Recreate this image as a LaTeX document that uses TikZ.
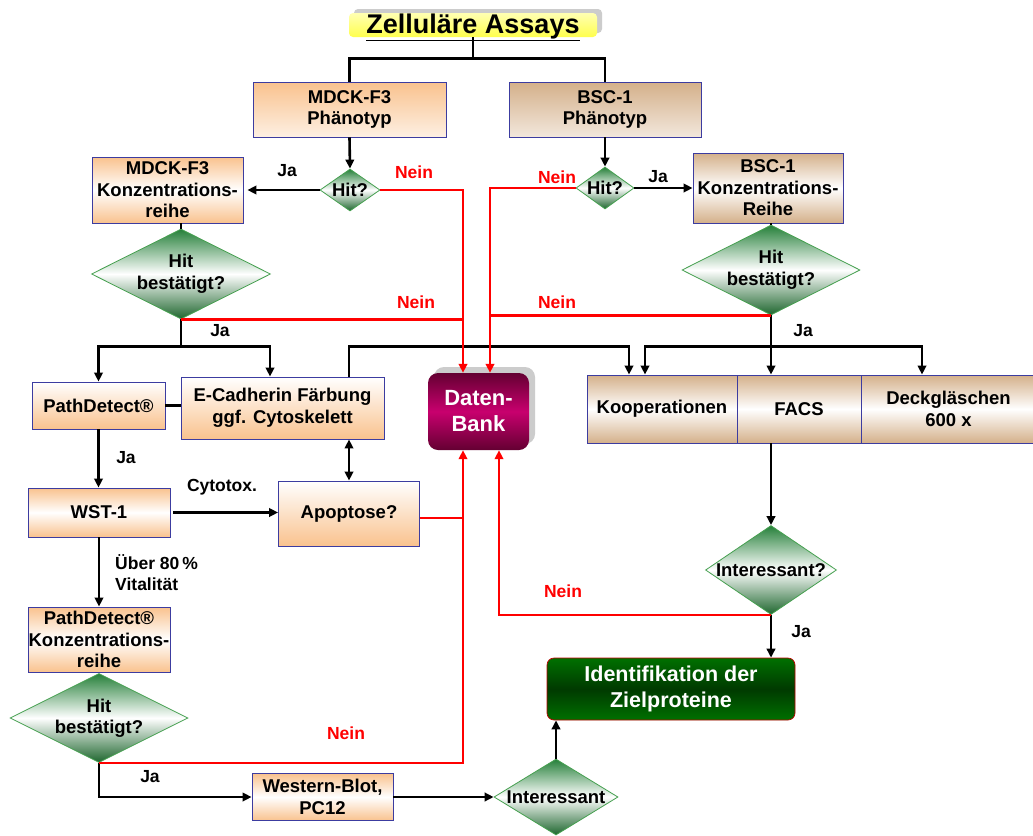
\documentclass[tikz,border=0pt]{standalone}
\usepackage{fontspec}
\setmainfont{Liberation Sans}
\usetikzlibrary{shapes.geometric,arrows.meta,shadows}

\definecolor{peach}{RGB}{249,194,142}
\definecolor{boxtan}{RGB}{212,176,138}
\definecolor{boxedge}{RGB}{60,60,160}
\definecolor{diagreen}{RGB}{38,128,58}
\definecolor{diaedge}{RGB}{70,160,80}
\definecolor{dbdark}{RGB}{100,0,50}
\definecolor{dbmid}{RGB}{200,0,110}
\definecolor{idgreen}{RGB}{0,112,0}
\definecolor{iddark}{RGB}{0,58,0}
\definecolor{flowred}{RGB}{255,0,0}

\begin{document}
\begin{tikzpicture}[x=1pt,y=-1pt,
  txt/.style={font=\bfseries\fontsize{18.5}{21.5}\selectfont},
  box/.style={rectangle, draw=boxedge, line width=0.9pt, inner sep=0pt, align=center, txt},
  peachdown/.style={box, top color=peach, bottom color=peach!25},
  peachup/.style={box, top color=white, bottom color=peach},
  peachmid/.style={box, top color=peach, bottom color=peach, middle color=white},
  tandown/.style={box, top color=boxtan, bottom color=boxtan!30},
  tanmid/.style={box, top color=boxtan, bottom color=boxtan, middle color=white},
  dia/.style={diamond, draw=diaedge, line width=0.8pt, inner sep=0pt,
    top color=diagreen, bottom color=diagreen!80!black, middle color=white},
  dtext/.style={txt, align=center, inner sep=0pt},
  dbbox/.style={rectangle, rounded corners=10pt, inner sep=0pt, align=center,
    top color=dbdark, bottom color=dbdark, middle color=dbmid, text=white,
    font=\bfseries\fontsize{22}{26}\selectfont,
    general shadow={fill=gray!40, shadow xshift=6pt, shadow yshift=6pt}},
  identbox/.style={rectangle, rounded corners=7pt, draw=red!75!black, line width=0.7pt,
    inner sep=0pt, align=center, top color=idgreen, bottom color=idgreen, middle color=iddark,
    text=white, font=\bfseries\fontsize{21.5}{26}\selectfont},
  titlebox/.style={rectangle, rounded corners=4pt, inner sep=0pt,
    top color=yellow!30, bottom color=yellow!70,
    font=\bfseries\fontsize{27}{27}\selectfont, text height=19pt, text depth=2pt,
    general shadow={fill=gray!40, shadow xshift=5pt, shadow yshift=4pt}},
  lab/.style={font=\bfseries\fontsize{17.5}{21}\selectfont, inner sep=0pt},
  nein/.style={lab, text=flowred},
  ln/.style={line width=2.6pt},
  arr/.style={ln, -{Triangle[length=9pt,width=8.5pt]}},
  dblarr/.style={ln, {Triangle[length=9pt,width=8.5pt]}-{Triangle[length=9pt,width=8.5pt]}},
  rln/.style={ln, flowred},
  rarr/.style={arr, flowred}]

\fill[white] (0,0) rectangle (1033,835);
\useasboundingbox (0,0) rectangle (1033,835);

% ---------- nodes ----------
\node[titlebox, minimum width=248pt, minimum height=24pt] (title) at (473,25) {\underline{Zelluläre Assays}};

\node[peachdown, minimum width=193pt, minimum height=55pt] (mp) at (349.5,109.5) {MDCK-F3\\Phänotyp};
\node[tandown, minimum width=192pt, minimum height=55pt] (bp) at (605,109.5) {BSC-1\\Phänotyp};

\node[dia, minimum width=60pt, minimum height=42pt, label={[dtext]center:Hit?}] (h1) at (350,190) {};
\node[dia, minimum width=58pt, minimum height=42pt, label={[dtext]center:Hit?}] (h2) at (605,188) {};

\node[peachmid, minimum width=151pt, minimum height=66pt] (mk) at (167.5,190) {MDCK-F3\\Konzentrations-\\reihe};
\node[tanmid, minimum width=150pt, minimum height=70pt] (bk) at (768,188) {BSC-1\\Konzentrations-\\Reihe};

\node[dia, minimum width=179pt, minimum height=90pt, label={[dtext]center:{Hit\\bestätigt?}}] (d1) at (181,274) {};
\node[dia, minimum width=178pt, minimum height=90pt, label={[dtext]center:{Hit\\bestätigt?}}] (d2) at (771,270) {};

\node[peachup, minimum width=133pt, minimum height=47pt] (pd) at (98.5,405.5) {PathDetect®};
\node[peachup, minimum width=203pt, minimum height=62pt] (ec) at (282.5,408) {E-Cadherin Färbung\\ggf. Cytoskelett};

\node[dbbox, minimum width=101pt, minimum height=77pt] (db) at (478.5,411.5) {Daten-\\Bank};

\node[tanmid, minimum width=150pt, minimum height=68pt] (koop) at (662,409) {Kooperationen};
\node[tanmid, minimum width=124pt, minimum height=68pt] (facs) at (799,409) {FACS};
\node[tanmid, minimum width=175pt, minimum height=68pt] (deck) at (948.5,409) {Deckgläschen\\600 x};

\node[peachmid, minimum width=142pt, minimum height=49pt] (wst) at (99,512.5) {WST-1};
\node[peachup, minimum width=141pt, minimum height=65pt] (ap) at (349,513.5) {Apoptose?};

\node[dia, minimum width=131pt, minimum height=89pt, label={[dtext]center:Interessant?}] (int1) at (771,570) {};
\node[identbox, minimum width=248pt, minimum height=62pt] (ident) at (671,689) {Identifikation der\\Zielproteine};

\node[peachmid, minimum width=142pt, minimum height=65pt] (pk) at (99,639.5) {PathDetect®\\Konzentrations-\\reihe};
\node[dia, minimum width=178pt, minimum height=89pt, label={[dtext]center:{Hit\\bestätigt?}}] (d3) at (99,718) {};

\node[peachmid, minimum width=141pt, minimum height=47pt] (wb) at (322.5,797) {Western-Blot,\\PC12};
\node[dia, minimum width=124pt, minimum height=76pt, label={[dtext]center:Interessant}] (int2) at (556,797) {};

% ---------- helper points ----------
\coordinate (tsplit) at ([yshift=-21pt]title.south);
\coordinate (ls) at ([yshift=-27pt]d1.south);
\coordinate (rs) at ([yshift=-31pt]d2.south);
\coordinate (dbn1) at ([xshift=-15.5pt]db.north);
\coordinate (dbn2) at ([xshift=11.5pt]db.north);
\coordinate (dbs1) at ([xshift=-15.5pt]db.south);
\coordinate (dbs2) at ([xshift=20.5pt]db.south);
\coordinate (ectop) at (ec.north -| ap.north);
\coordinate (apr) at ([yshift=-4.5pt]ap.east);

% ---------- black connectors ----------
\draw[ln] (title.south) -- (tsplit);
\draw[ln] (tsplit) -| (mp.north);
\draw[ln] (tsplit) -| (bp.north);
\draw[arr] (mp.south) -- (h1.north);
\draw[arr] (bp.south) -- (h2.north);
\draw[arr] (h1.west) -- ([xshift=4pt]mk.east);
\draw[arr] (h2.east) -- (h2.east -| bk.west);
\draw[ln] (d1.north) -- (d1.north |- mk.south);
\draw[ln] (d2.north) -- (d2.north |- bk.south);

\draw[ln] (d1.south) -- (ls);
\draw[arr] (ls) -| (pd.north);
\draw[arr] (ls) -| ([xshift=-12.5pt]ec.north);
\draw[ln] (pd.east) -- (pd.east -| ec.west);
\draw[arr] (ectop) -- ++(0,-30) -| ([xshift=-33pt]koop.north);
\draw[dblarr] (ec.south -| ap.north) -- (ap.north);

\draw[ln] (d2.south) -- (rs);
\draw[arr] (rs) -| ([xshift=-17pt]koop.north);
\draw[arr] (rs) -- (rs |- facs.north);
\draw[arr] (rs) -| ([xshift=-26.5pt]deck.north);
\draw[arr] (rs |- facs.south) -- (int1.north);
\draw[arr] (int1.south) -- (int1.south |- ident.north);

\draw[arr] (pd.south) -- (pd.south |- wst.north);
\draw[arr] ([xshift=3pt]wst.east) -- (wst.east -| ap.west);
\draw[arr] (wst.south) -- (wst.south |- pk.north);
\draw[arr] (d3.south) |- (wb.west);
\draw[arr] (wb.east) -- (int2.west);
\draw[arr] (int2.north) -- (int2.north |- ident.south);

% ---------- red connectors into the data bank ----------
\draw[rarr] (h1.east) -| (dbn1);
\draw[rarr] (h2.west) -| (dbn2);
\draw[rln] (d1.south) -- (d1.south -| dbn1);
\draw[rln] (d2.south) -- (d2.south -| dbn2);
\draw[rln] (apr) -- (apr -| dbs1);
\draw[rarr] (d3.south) -| (dbs1);
\draw[rarr] (int1.south) -| (dbs2);

% ---------- edge labels ----------
\node[lab] (ja1) at (287,171) {Ja};
\node[nein] (n1) at (414,172) {Nein};
\node[nein] (n2) at (557,177) {Nein};
\node[lab] (ja2) at (658,177) {Ja};
\node[nein] (n3) at (416,302) {Nein};
\node[nein] (n4) at (557,302) {Nein};
\node[lab] (ja3) at (220,331) {Ja};
\node[lab] (ja4) at (803,331) {Ja};
\node[lab] (ja5) at (126,458) {Ja};
\node[lab] (cyt) at (222,487) {Cytotox.};
\node[lab, anchor=west, align=left] (ueber) at (115,573) {Über 80\,\%\\Vitalität};
\node[nein] (n5) at (563,591) {Nein};
\node[lab] (ja6) at (801,632) {Ja};
\node[nein] (n6) at (346,733) {Nein};
\node[lab] (ja7) at (150,777) {Ja};
\end{tikzpicture}
\end{document}
